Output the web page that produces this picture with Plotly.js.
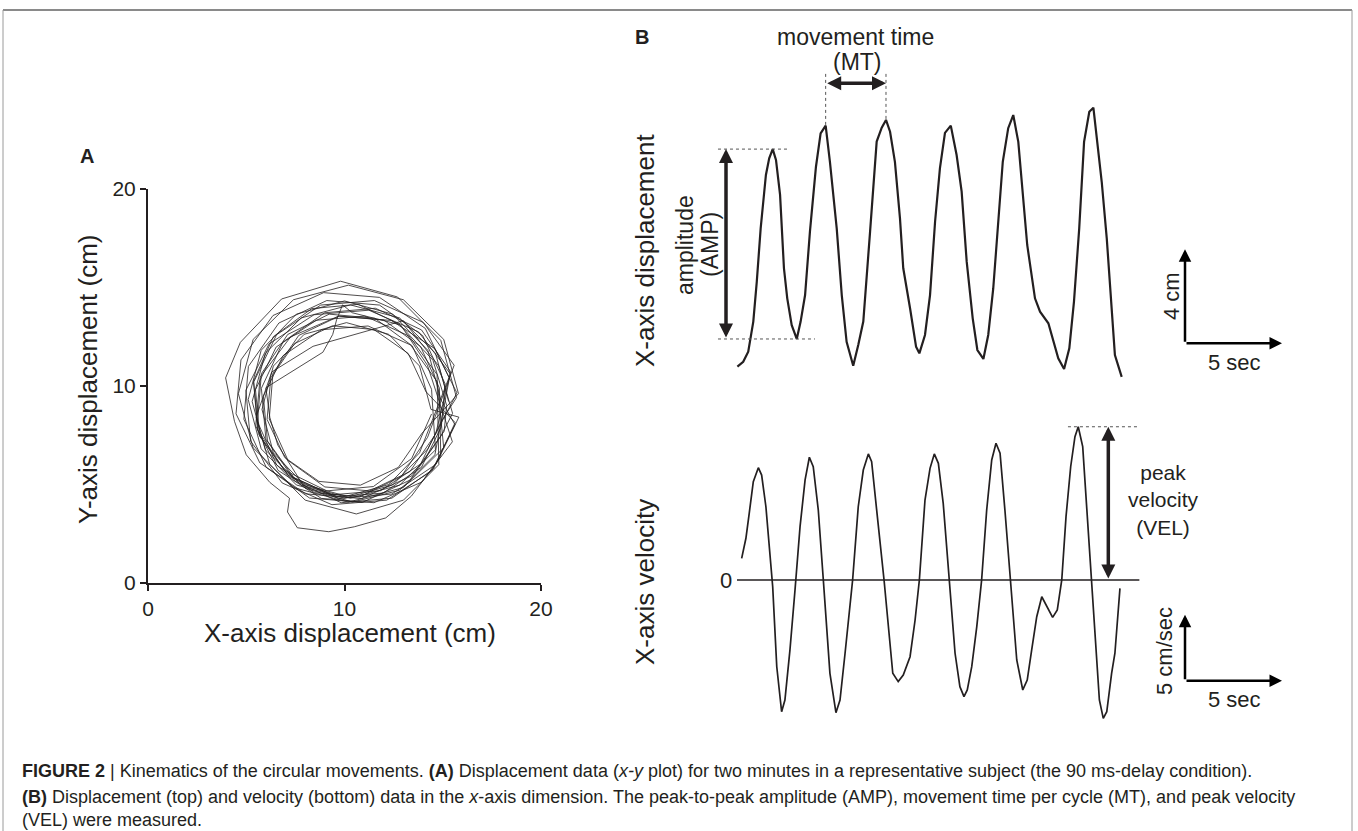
<!DOCTYPE html>
<html><head><meta charset="utf-8">
<script src="https://cdn.plot.ly/plotly-3.0.1.min.js"></script>
<style>html,body{margin:0;padding:0;background:#fff;}#chart{width:1358px;height:831px;}</style>
</head><body><div id="chart"></div>
<script>
const W = 1358, H = 831;
const INK = '#231f20';
const FONT = '"Liberation Sans", Arial, Helvetica, sans-serif';

// ---------- Panel A: x-y trajectory (cm) ----------
const trajX = [
 15.3,14.63,12.8,10.3,7.8,5.97,5.3,5.97,7.8,10.3,12.8,14.63,
 14.43,13.45,11.54,9.22,7.11,5.77,5.57,6.55,8.46,10.78,12.89,14.23,
 15.58,14.01,11.52,8.79,6.54,5.38,5.62,7.19,9.68,12.41,14.66,15.82,
 14.4,13.82,12.25,10.1,7.95,6.38,5.8,6.38,7.95,10.1,12.25,13.82,
 15.32,14.11,11.78,8.94,6.36,4.73,4.48,5.69,8.02,10.86,13.44,15.07,
 15.2,14.5,12.8,10.4,9.9,9.6,9.4,8.9,6.0,6.2,6.6,8.0,10.4,12.8,14.6,
 15.4,13.92,11.57,8.99,6.87,5.77,6.0,7.48,9.83,12.41,14.53,15.63,
 14.14,13.24,11.5,9.39,7.46,6.25,6.06,6.96,8.7,10.81,12.74,13.95,
 15.8,15.05,13.0,10.2,7.4,5.35,4.6,5.35,7.4,10.2,13.0,15.05,
 14.72,13.36,11.2,8.83,6.88,5.87,6.08,7.44,9.6,11.97,13.92,14.93,
 15.12,13.98,11.78,9.1,6.66,5.11,4.88,6.02,8.22,10.9,13.34,14.89,
 15.5,14.8,13.0,8.4,6.3,5.5,6.2,8.0,10.6,13.0,14.8,
 14.71,13.29,11.04,8.56,6.52,5.47,5.69,7.11,9.36,11.84,13.88,14.93,
 15.7,14.9,12.7,9.8,6.8,4.7,3.95,4.4,5.0,6.2,7.2,7.1,7.6,9.2,10.5,12.1,13.4,14.9,
 14.83,13.87,12.0,9.73,7.67,6.36,6.17,7.13,9.0,11.27,13.33,14.64,
 15.38,13.77,11.24,8.45,6.16,4.98,5.22,6.83,9.36,12.15,14.44,15.62,
 14.9,14.24,12.45,10.0,7.55,5.76,5.1,5.76,7.55,10.0,12.45,14.24,
 15.72,14.58,12.38,9.7,7.26,5.71,5.48,6.62,8.82,11.5,13.94,15.49,
 14.22,12.86,10.7,8.33,6.38,5.37,5.58,6.94,9.1,11.47,13.42,14.43
];
const trajY = [
 9.2,11.65,13.44,14.1,13.44,11.65,9.2,6.75,4.96,4.3,4.96,6.75,
 9.82,12.02,13.42,13.63,12.6,10.61,8.18,5.98,4.58,4.37,5.4,7.39,
 11.04,13.21,14.32,14.09,12.58,10.19,7.56,5.39,4.28,4.51,6.02,8.41,
 8.8,11.0,12.61,13.2,12.61,11.0,8.8,6.6,4.99,4.4,4.99,6.6,
 10.42,12.91,14.48,14.72,13.56,11.31,8.58,6.09,4.52,4.28,5.44,7.69,
 9.0,11.3,13.1,13.7,14.1,13.35,12.6,11.7,9.9,8.4,7.0,4.8,4.1,4.7,6.5,
 10.71,12.83,13.93,13.7,12.22,9.87,7.29,5.17,4.07,4.3,5.78,8.13,
 9.71,11.64,12.85,13.04,12.14,10.4,8.29,6.36,5.15,4.96,5.86,7.6,
 9.6,12.35,14.36,15.1,14.36,12.35,9.6,6.85,4.84,4.1,4.84,6.85,
 10.2,12.07,13.03,12.84,11.53,9.47,7.2,5.33,4.37,4.56,5.87,7.93,
 10.1,12.54,14.09,14.32,13.18,10.98,8.3,5.86,4.31,4.08,5.22,7.42,
 8.6,11.0,13.3,12.0,10.7,8.4,6.0,4.2,3.5,4.2,6.0,
 10.57,12.52,13.53,13.32,11.96,9.8,7.43,5.48,4.47,4.68,6.04,8.2,
 9.4,12.3,14.5,15.3,14.4,12.2,10.4,8.2,6.5,5.1,4.3,3.6,2.8,2.6,2.85,3.3,4.4,6.4,
 9.88,11.99,13.33,13.53,12.55,10.64,8.32,6.21,4.87,4.67,5.65,7.56,
 10.61,12.73,13.83,13.6,12.12,9.77,7.19,5.07,3.97,4.2,5.68,8.03,
 9.3,11.8,13.63,14.3,13.63,11.8,9.3,6.8,4.97,4.3,4.97,6.8,
 9.64,11.89,13.31,13.53,12.48,10.44,7.96,5.71,4.29,4.07,5.12,7.16,
 11.04,13.08,14.13,13.91,12.49,10.23,7.76,5.72,4.67,4.89,6.31,8.57
];
const axisTicksA = [0, 10, 20];

// ---------- Panel B: x-axis displacement (cm) and velocity (cm/s) vs time (s) ----------
const dispTime = [
 0.02,0.32,0.58,0.84,1.02,1.22,1.49,1.66,1.84,2.01,
 2.22,2.42,2.59,2.82,3.08,3.28,3.51,3.76,4.07,4.31,
 4.57,4.79,5.14,5.40,5.65,5.99,6.25,6.51,6.86,7.20,
 7.46,7.68,7.89,8.14,8.40,8.57,8.92,9.23,9.40,9.69,
 9.95,10.21,10.46,10.72,11.02,11.32,11.58,11.84,12.15,12.39,
 12.70,12.95,13.21,13.47,13.70,13.98,14.24,14.50,14.73,14.96,
 15.36,15.62,16.05,16.30,16.56,16.86,17.13,17.37,17.64,17.89,
 18.16,18.37,18.54,18.80,19.06,19.26,19.48,19.83
];
const dispX = [
 4.34,4.55,4.98,6.26,7.96,10.23,12.50,13.21,13.60,13.14,
 11.65,8.53,7.25,6.11,5.52,6.26,7.39,10.09,12.85,14.27,
 14.60,13.06,10.23,7.39,5.40,4.38,5.26,6.26,10.09,13.92,
 14.51,14.84,14.34,13.06,10.66,8.53,6.83,5.19,4.91,5.69,
 7.39,10.51,12.78,14.29,14.60,13.35,11.79,8.81,6.40,5.05,
 4.67,5.69,7.68,10.51,13.06,14.49,15.05,13.91,11.79,9.52,
 7.25,6.68,6.19,5.40,4.70,4.24,5.12,7.11,10.23,13.91,
 15.19,15.36,14.20,12.21,9.80,7.39,4.84,3.91
];
const velTime = [
 0.24,0.46,0.63,0.84,1.10,1.27,1.49,1.70,1.84,2.05,
 2.30,2.47,2.73,2.99,3.25,3.51,3.73,3.93,4.19,4.45,
 4.79,5.10,5.31,5.57,5.96,6.25,6.51,6.77,6.94,7.20,
 7.58,8.03,8.31,8.57,8.92,9.18,9.40,9.69,9.95,10.17,
 10.38,10.63,10.81,10.94,11.24,11.49,11.70,11.87,12.10,12.36,
 12.61,12.87,13.13,13.35,13.56,13.81,14.11,14.42,14.73,14.96,
 15.19,15.45,15.71,15.96,16.27,16.51,16.74,16.96,17.20,17.42,
 17.59,17.82,18.03,18.25,18.51,18.68,18.88,19.06,19.31,19.48,
 19.74
];
const velX = [
 1.64,3.16,5.05,7.45,8.51,7.95,5.55,2.27,-0.51,-6.57,
 -9.98,-9.09,-5.30,-0.76,4.04,7.58,9.30,8.58,5.30,0.00,
 -7.07,-10.05,-9.09,-5.55,0.00,5.55,8.33,9.55,8.96,5.30,
 0.00,-7.07,-7.70,-7.20,-5.81,-3.03,0.00,6.06,8.46,9.55,
 8.84,5.81,2.52,0.00,-5.55,-8.08,-8.84,-8.33,-6.57,-3.54,
 0.00,5.30,9.09,10.36,9.60,5.30,0.00,-6.06,-8.33,-7.58,
 -5.30,-2.78,-1.27,-2.02,-2.83,-2.27,0.00,4.80,8.58,10.86,
 11.61,10.10,5.30,0.00,-5.55,-9.09,-10.48,-9.98,-7.07,-5.55,
 -0.63
];
// measured quantities shown by the annotations
const ampPeakIdx = 8, ampTroughIdx = 14;      // first cycle peak / trough
const mtStartIdx = 20, mtEndIdx = 31;         // peaks 2 and 3
const velPeakIdx = 70;                        // peak velocity
const scaleDisp = 4, scaleVel = 5, scaleTime = 5;  // scale bars: 4 cm, 5 cm/sec, 5 sec
const zeroLabel = '0';

// ---------- helpers ----------
const PX = x => x / W, PY = y => 1 - y / H;
function txt(text, x, y, size, extra) {
  return Object.assign({text, x: PX(x), y: PY(y), xref: 'paper', yref: 'paper', showarrow: false,
    xanchor: 'center', yanchor: 'middle', font: {family: FONT, size, color: INK}}, extra || {});
}
function arrow(xr, yr, x, y, ax, ay, both, color, width, size) {
  return {text: '', xref: xr, yref: yr, axref: xr, ayref: yr, x, y, ax, ay, showarrow: true,
    arrowhead: 2, startarrowhead: 2, arrowside: both ? 'end+start' : 'end', arrowsize: size,
    startarrowsize: size, arrowwidth: width, arrowcolor: color, standoff: 0, startstandoff: 0};
}

const traces = [
  {type: 'scatter', mode: 'lines', x: trajX, y: trajY, xaxis: 'x', yaxis: 'y',
   line: {color: INK, width: 0.8}, hoverinfo: 'skip'},
  {type: 'scatter', mode: 'lines', x: dispTime, y: dispX, xaxis: 'x2', yaxis: 'y2',
   line: {color: INK, width: 2.2}, hoverinfo: 'skip'},
  {type: 'scatter', mode: 'lines', x: velTime, y: velX, xaxis: 'x3', yaxis: 'y3',
   line: {color: INK, width: 1.7}, hoverinfo: 'skip'}
];

const axA = {range: [0, 20], showline: true, linecolor: INK, linewidth: 2, ticks: 'outside',
  ticklen: 6, tickwidth: 2, tickcolor: INK, tickvals: axisTicksA, ticktext: axisTicksA.map(String),
  tickfont: {family: FONT, size: 21, color: INK}, showgrid: false, zeroline: false, fixedrange: true};
const tRange = [(700 - 737) / 19.4, (1300 - 737) / 19.4];
const axB = {range: tRange, domain: [PX(700), PX(1300)], visible: false, fixedrange: true};

const tAmp = -0.567, tVelArrow = 19.14, tScale = 23.093;
const dScale0 = 5.336, vScale0 = -7.629;
const dMT = 16.4, dMTtop = 16.8;

const shapes = [
  // figure frame
  {type: 'line', xref: 'paper', yref: 'paper', x0: PX(3), x1: PX(1352), y0: PY(10), y1: PY(10), line: {color: '#8a8a8a', width: 2}},
  {type: 'line', xref: 'paper', yref: 'paper', x0: PX(3), x1: PX(3), y0: PY(10), y1: PY(850), line: {color: '#9a9a9a', width: 1}},
  {type: 'line', xref: 'paper', yref: 'paper', x0: PX(1352), x1: PX(1352), y0: PY(10), y1: PY(850), line: {color: '#9a9a9a', width: 1}},
  // AMP guide lines
  {type: 'line', xref: 'x2', yref: 'y2', x0: -0.98, x1: 2.73, y0: dispX[ampPeakIdx], y1: dispX[ampPeakIdx], line: {color: '#555', width: 1, dash: 'dot'}},
  {type: 'line', xref: 'x2', yref: 'y2', x0: -0.98, x1: 4.02, y0: dispX[ampTroughIdx], y1: dispX[ampTroughIdx], line: {color: '#555', width: 1, dash: 'dot'}},
  // MT guide lines
  {type: 'line', xref: 'x2', yref: 'y2', x0: dispTime[mtStartIdx], x1: dispTime[mtStartIdx], y0: dMTtop, y1: dispX[mtStartIdx], line: {color: '#555', width: 1, dash: 'dot'}},
  {type: 'line', xref: 'x2', yref: 'y2', x0: dispTime[mtEndIdx], x1: dispTime[mtEndIdx], y0: dMTtop, y1: dispX[mtEndIdx], line: {color: '#555', width: 1, dash: 'dot'}},
  // velocity zero line
  {type: 'line', xref: 'x3', yref: 'y3', x0: 0, x1: 20.74, y0: 0, y1: 0, line: {color: INK, width: 1.6}},
  // VEL guide line
  {type: 'line', xref: 'x3', yref: 'y3', x0: 17.06, x1: 20.67, y0: velX[velPeakIdx], y1: velX[velPeakIdx], line: {color: '#555', width: 1, dash: 'dot'}}
];

const annotations = [
  // measurement arrows
  arrow('x2', 'y2', tAmp, dispX[ampPeakIdx], tAmp, dispX[ampTroughIdx], true, INK, 3.5, 0.8),
  arrow('x2', 'y2', dispTime[mtEndIdx], dMT, dispTime[mtStartIdx], dMT, true, INK, 3.5, 0.8),
  arrow('x3', 'y3', tVelArrow, velX[velPeakIdx], tVelArrow, 0, true, INK, 3.5, 0.8),
  // scale bars
  arrow('x2', 'y2', tScale, dScale0 + scaleDisp, tScale, dScale0, false, '#000', 2.5, 1),
  arrow('x2', 'y2', tScale + scaleTime, dScale0, tScale, dScale0, false, '#000', 2.5, 1),
  arrow('x3', 'y3', tScale, vScale0 + scaleVel, tScale, vScale0, false, '#000', 2.5, 1),
  arrow('x3', 'y3', tScale + scaleTime, vScale0, tScale, vScale0, false, '#000', 2.5, 1),
  // panel letters
  txt('<b>A</b>', 87, 156, 20),
  txt('<b>B</b>', 642, 37, 20),
  // panel A axis titles
  txt('X-axis displacement (cm)', 350, 633, 26),
  txt('Y-axis displacement (cm)', 88, 380, 26, {textangle: -90}),
  // panel B labels
  txt('X-axis displacement', 645, 251, 26, {textangle: -90}),
  txt('X-axis velocity', 645, 582, 26, {textangle: -90}),
  txt('amplitude', 685, 245, 23, {textangle: -90}),
  txt('(AMP)', 710, 245, 23, {textangle: -90}),
  txt('movement time', 855, 37, 23),
  txt('(MT)', 857, 62, 23),
  txt('peak<br>velocity<br>(VEL)', 1163, 500, 21),
  txt(scaleDisp + ' cm', 1171, 296, 22, {textangle: -90}),
  txt(scaleTime + ' sec', 1234, 362, 22),
  txt(scaleVel + ' cm/sec', 1164, 651, 22, {textangle: -90}),
  txt(scaleTime + ' sec', 1234, 699, 22),
  txt(zeroLabel, 726, 580, 22),
  // caption
  txt('<b>FIGURE 2</b> | Kinematics of the circular movements. <b>(A)</b> Displacement data (<i>x-y</i> plot) for two minutes in a representative subject (the 90 ms-delay condition).', 20, 771, 18, {xanchor: 'left'}),
  txt('<b>(B)</b> Displacement (top) and velocity (bottom) data in the <i>x</i>-axis dimension. The peak-to-peak amplitude (AMP), movement time per cycle (MT), and peak velocity', 20, 797, 18, {xanchor: 'left'}),
  txt('(VEL) were measured.', 20, 820, 18, {xanchor: 'left'})
];

const layout = {
  width: W, height: H, margin: {l: 0, r: 0, t: 0, b: 0}, autosize: false,
  paper_bgcolor: '#fff', plot_bgcolor: 'rgba(0,0,0,0)', showlegend: false, hovermode: false,
  font: {family: FONT, color: INK},
  xaxis: Object.assign({}, axA, {domain: [PX(148), PX(541)], anchor: 'y'}),
  yaxis: Object.assign({}, axA, {domain: [PY(583), PY(188.5)], anchor: 'x'}),
  xaxis2: Object.assign({}, axB, {anchor: 'y2'}),
  yaxis2: {range: [4.2 - 20 / 23.5, 4.2 + 310 / 23.5], domain: [PY(390), PY(60)], anchor: 'x2', visible: false, fixedrange: true},
  xaxis3: Object.assign({}, axB, {anchor: 'y3'}),
  yaxis3: {range: [-160 / 13.2, 170 / 13.2], domain: [PY(740), PY(410)], anchor: 'x3', visible: false, fixedrange: true},
  shapes, annotations
};

Plotly.newPlot('chart', traces, layout, {displayModeBar: false, staticPlot: true});
</script></body></html>
